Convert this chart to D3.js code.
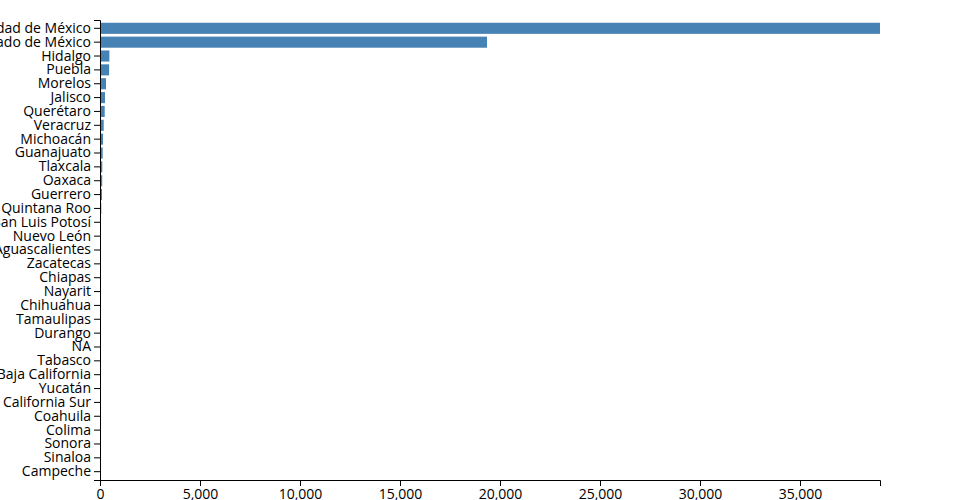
<!DOCTYPE html>
<html>
<head>
<meta charset="utf-8">
<script src="https://cdn.jsdelivr.net/npm/d3@7"></script>
<style>
  body { margin: 0; background: #fff; }
  svg { display: block; font-family: "Open Sans", sans-serif; }
</style>
</head>
<body>
<svg id="chart" width="960" height="500"></svg>
<script>
const states = ["Ciudad de México","Estado de México","Hidalgo","Puebla","Morelos","Jalisco","Querétaro","Veracruz","Michoacán","Guanajuato","Tlaxcala","Oaxaca","Guerrero","Quintana Roo","San Luis Potosí","Nuevo León","Aguascalientes","Zacatecas","Chiapas","Nayarit","Chihuahua","Tamaulipas","Durango","NA","Tabasco","Baja California","Yucatán","Baja California Sur","Coahuila","Colima","Sonora","Sinaloa","Campeche"];
const counts = [39000,19350,470,455,300,250,235,185,150,135,115,110,100,65,50,40,30,25,20,18,15,12,10,9,8,7,6,5,4,3,2,2,1];
const xTicks = [0,5000,10000,15000,20000,25000,30000,35000];

const data = states.map((s,i)=>({state:s, value:counts[i]}));
const margin = {top:20, right:80, bottom:20, left:100};
const width = 960, height = 500;
const svg = d3.select("#chart");

const x = d3.scaleLinear().domain([0, d3.max(counts)]).range([margin.left, width - margin.right]);
const y = d3.scaleBand().domain(states).range([margin.top, height - margin.bottom]).padding(0.2);

svg.append("g").attr("fill", "steelblue")
  .selectAll("rect").data(data).join("rect")
  .attr("x", x(0))
  .attr("y", d => y(d.state))
  .attr("width", d => x(d.value) - x(0))
  .attr("height", y.bandwidth());

svg.append("g")
  .attr("transform", `translate(0,${height - margin.bottom})`)
  .call(d3.axisBottom(x).tickValues(xTicks).tickFormat(d3.format(",")))
  .call(g => g.selectAll("text").attr("font-size", 14).attr("font-family", "Open Sans"));

svg.append("g")
  .attr("transform", `translate(${margin.left},0)`)
  .call(d3.axisLeft(y).tickSizeOuter(6))
  .call(g => g.selectAll("text").attr("font-size", 14).attr("font-family", "Open Sans"));
</script>
</body>
</html>
